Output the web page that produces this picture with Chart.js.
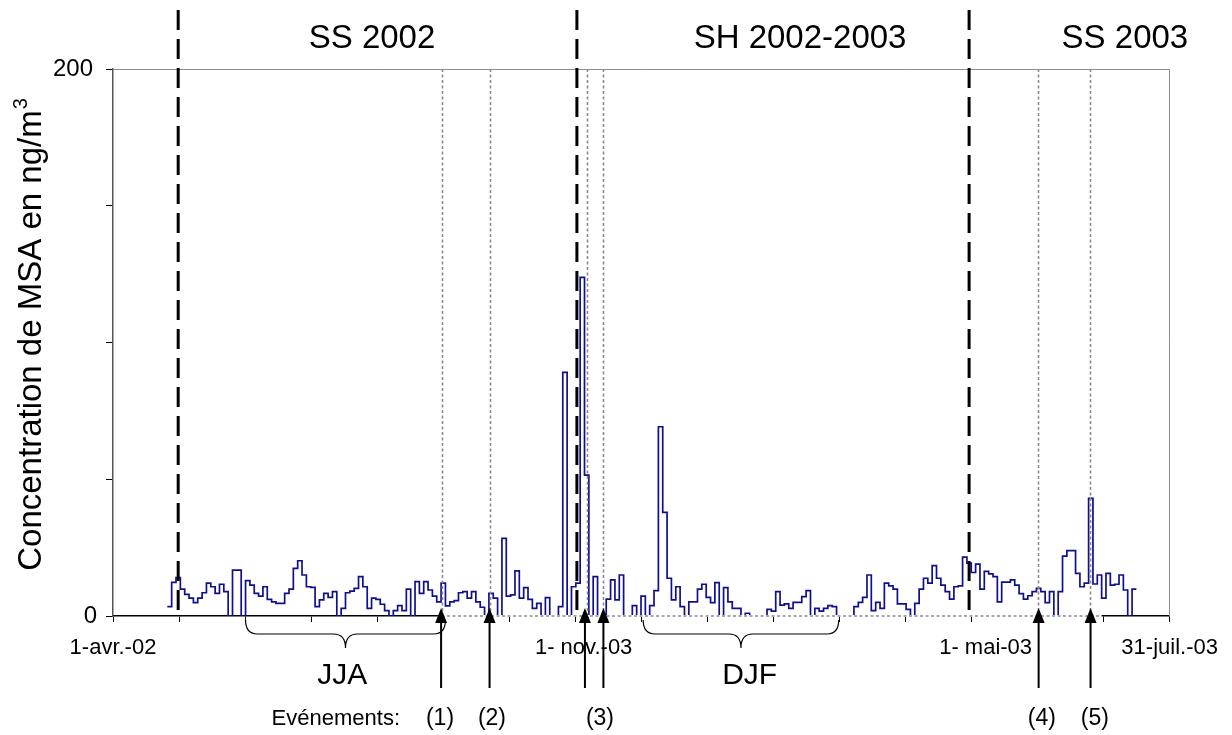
<!DOCTYPE html>
<html><head><meta charset="utf-8">
<script src="https://cdn.jsdelivr.net/npm/chart.js@4/dist/chart.umd.min.js"></script>
<style>html,body{margin:0;padding:0;background:#fff;}#wrap{width:1232px;height:735px;position:relative;}</style>
</head><body><div id="wrap"><canvas id="c"></canvas></div>
<script>
// MSA concentration (ng/m3), one value per 2-day sample, first sample on 26 avr. 2002
const msaValues = [
 3.4,12.3,14.0,9.8,7.9,6.5,4.9,6.5,8.5,12.0, 10.7,8.3,11.6,8.9,0,16.8,16.8,0,12.9,11.3,
 8.3,7.3,10.7,6.1,5.2,4.6,4.6,8.3,9.8,17.4, 20.2,15.0,10.7,10.5,3.4,5.9,8.3,6.8,8.9,0,
 2.8,8.5,9.1,10.1,14.4,10.7,2.8,6.5,6.1,4.3, 2.0,0,2.0,3.8,2.0,9.8,0,12.6,8.3,12.6,
 9.5,7.3,5.2,12.0,3.7,5.2,5.6,8.5,8.9,6.5, 8.9,5.2,3.2,0,8.3,6.5,0,28.4,7.3,7.7,
 16.5,6.5,10.4,6.1,2.8,4.6,0,6.7,0,0, 3.4,89.1,0,10.7,12.0,123.8,51.5,0,14.4,0,
 0,6.2,13.2,5.9,15.0,0,0,3.8,0,7.3, 0,3.8,9.3,69.2,37.9,13.8,5.9,10.7,3.4,0,
 5.2,5.2,9.8,11.6,6.8,4.9,12.2,0,10.4,5.2, 2.8,2.8,0,1.0,0,0,0,0,2.4,1.8,
 8.9,4.0,4.4,2.8,5.0,5.0,7.1,9.3,0,2.8, 1.8,2.8,3.8,3.4,0,0,0,0,3.4,5.0,
 6.8,15.0,2.0,5.0,2.8,12.0,11.0,9.8,4.4,4.4, 2.4,0,4.6,9.8,13.8,12.0,18.4,13.8,11.3,8.9,
 6.2,10.7,11.0,21.5,19.3,15.9,19.0,9.8,16.3,15.4, 14.4,5.2,12.4,12.4,13.2,11.3,8.2,6.2,7.4,8.9,
 10.1,8.9,4.9,8.9,0,8.9,21.9,23.9,23.9,15.6, 10.7,12.0,43.0,11.7,15.0,6.5,15.6,11.3,11.6,15.0,
 9.5,0,9.8
];
const firstSampleDay = 25;      // days after 1-avr.-02
const sampleStepDays = 2;
const axisDays = 486;           // 1-avr.-02 .. 31-juil.-03
const axisTickCount = 17;

const xLabelTexts = ['1-avr.-02','1- nov.-03','1- mai-03','31-juil.-03'];
const xLabelDays = [0, 216.6, 401.6, 486.3];

const yTickLabels = ['0','200'];
const yTickValues = [0, 200];

const seasonNames = ['SS 2002','SH 2002-2003','SS 2003'];
const seasonLabelDays = [119.2, 316.2, 465.7];
const seasonBoundaryDays = [30, 213.5, 394];

const eventLineDays = [151.2, 173.3, 218.0, 225.5, 425.5, 449.5];
const eventArrowDays = [151.0, 173.3, 217.2, 225.7, 426.0, 449.9];
const eventLabels = ['(1)','(2)','(3)','(4)','(5)'];
const eventLabelDays = [150.5, 174.4, 224.1, 427.5, 451.9];
const eventBaselineDays = [151.2, 455];

const periodNames = ['JJA','DJF'];
const periodStartDays = [61, 244];
const periodEndDays = [153, 334];
const periodLabelDays = [105.5, 293];

const yTitle = 'Concentration de MSA en ng/m';
const yTitleSup = '3';
const eventsCaption = 'Evénements:';

const FONT = '"Liberation Sans", Arial, sans-serif';

const points = msaValues.map((v,i)=>({x: firstSampleDay + i*sampleStepDays, y: v}));
points.push({x: firstSampleDay + msaValues.length*sampleStepDays, y: msaValues[msaValues.length-1]});

function brace(ctx, x1, x2, yTop, h){
  const xm=(x1+x2)/2, yMid=yTop+h*0.5, yTip=yTop+h, r=12;
  ctx.beginPath();
  ctx.moveTo(x1, yTop);
  ctx.quadraticCurveTo(x1, yMid, x1+r, yMid);
  ctx.lineTo(xm-r, yMid);
  ctx.quadraticCurveTo(xm, yMid, xm, yTip);
  ctx.quadraticCurveTo(xm, yMid, xm+r, yMid);
  ctx.lineTo(x2-r, yMid);
  ctx.quadraticCurveTo(x2, yMid, x2, yTop);
  ctx.stroke();
}

const annot = {
  id:'annot',
  afterDatasetsDraw(chart){
    const ctx=chart.ctx, xs=chart.scales.x, ys=chart.scales.y, a=chart.chartArea;
    const X=d=>xs.getPixelForValue(d);
    ctx.save();
    ctx.strokeStyle='#8c8c8c'; ctx.lineWidth=1;
    ctx.beginPath(); ctx.moveTo(a.left, a.top+0.5); ctx.lineTo(a.right+0.5, a.top+0.5); ctx.lineTo(a.right+0.5, a.bottom); ctx.stroke();
    ctx.strokeStyle='#8a8a8a'; ctx.lineWidth=1.6; ctx.setLineDash([3,2.5]);
    eventLineDays.forEach(d=>{ const x=Math.round(X(d))+0.5; ctx.beginPath(); ctx.moveTo(x,a.top); ctx.lineTo(x,a.bottom); ctx.stroke(); });
    const b=ys.getPixelForValue(0);
    ctx.setLineDash([]); ctx.strokeStyle='#fff'; ctx.lineWidth=2;
    ctx.beginPath(); ctx.moveTo(X(eventBaselineDays[0]),b); ctx.lineTo(X(eventBaselineDays[1]),b); ctx.stroke();
    ctx.strokeStyle='#8a8a8a'; ctx.lineWidth=1.6; ctx.setLineDash([3,2.5]);
    ctx.beginPath(); ctx.moveTo(X(eventBaselineDays[0]),b); ctx.lineTo(X(eventBaselineDays[1]),b); ctx.stroke();
    ctx.strokeStyle='#000'; ctx.lineWidth=3; ctx.setLineDash([20,9]);
    seasonBoundaryDays.forEach(d=>{ const x=X(d); ctx.beginPath(); ctx.moveTo(x,10); ctx.lineTo(x,a.bottom); ctx.stroke(); });
    ctx.setLineDash([]);
    ctx.fillStyle='#000'; ctx.strokeStyle='#000'; ctx.lineWidth=2;
    eventArrowDays.forEach(d=>{ const x=X(d);
      ctx.beginPath(); ctx.moveTo(x,688); ctx.lineTo(x,620); ctx.stroke();
      ctx.beginPath(); ctx.moveTo(x,608); ctx.lineTo(x-6,623); ctx.lineTo(x+6,623); ctx.closePath(); ctx.fill(); });
    ctx.lineWidth=1.2;
    periodNames.forEach((n,i)=>brace(ctx, X(periodStartDays[i]), X(periodEndDays[i]), 620, 28));
    ctx.fillStyle='#000'; ctx.textBaseline='middle';
    ctx.textAlign='center';
    ctx.font='33px '+FONT;
    seasonNames.forEach((n,i)=>ctx.fillText(n, X(seasonLabelDays[i]), 39));
    ctx.font='22px '+FONT;
    xLabelTexts.forEach((t,i)=>ctx.fillText(t, X(xLabelDays[i]), 648));
    ctx.font='30px '+FONT;
    periodNames.forEach((n,i)=>ctx.fillText(n, X(periodLabelDays[i]), 676));
    ctx.font='23px '+FONT;
    eventLabels.forEach((t,i)=>ctx.fillText(t, X(eventLabelDays[i]), 719));
    ctx.textAlign='right'; ctx.font='22px '+FONT;
    ctx.fillText(eventsCaption, 400, 719);
    ctx.font='24px '+FONT;
    yTickLabels.forEach((t,i)=>ctx.fillText(t, i===0?97:93, ys.getPixelForValue(yTickValues[i])));
    ctx.translate(32, 335); ctx.rotate(-Math.PI/2);
    ctx.font='33px '+FONT;
    const w1=ctx.measureText(yTitle).width;
    ctx.font='20px '+FONT;
    const w2=ctx.measureText(yTitleSup).width;
    const start=-(w1+w2)/2;
    ctx.textAlign='left';
    ctx.font='33px '+FONT; ctx.fillText(yTitle, start, 0);
    ctx.font='20px '+FONT; ctx.fillText(yTitleSup, start+w1+1, -11);
    ctx.restore();
  }
};

new Chart(document.getElementById('c'), {
  type:'line',
  data:{ datasets:[{ data:points, stepped:true, borderColor:'#10108c', borderWidth:1.7, pointRadius:0, fill:false, tension:0 }]},
  options:{
    responsive:true, maintainAspectRatio:false, animation:false,
    layout:{ padding:{ left:106, right:63, top:69, bottom:113 } },
    plugins:{ legend:{display:false}, tooltip:{enabled:false} },
    scales:{
      x:{ type:'linear', min:0, max:axisDays,
          afterBuildTicks:s=>{ s.ticks = Array.from({length:axisTickCount},(_,i)=>({value:i*axisDays/(axisTickCount-1)})); },
          afterFit:s=>{ s.height=6; },
          ticks:{ display:false },
          grid:{ drawOnChartArea:false, drawTicks:true, tickLength:6, color:'#000', lineWidth:1 },
          border:{ color:'#000', width:1.5 } },
      y:{ min:0, max:200,
          afterBuildTicks:s=>{ s.ticks=[0,50,100,150,200].map(v=>({value:v})); },
          afterFit:s=>{ s.width=7; },
          ticks:{ display:false },
          grid:{ drawOnChartArea:false, drawTicks:true, tickLength:7, color:'#000', lineWidth:1 },
          border:{ color:'#555', width:1.5 } }
    }
  },
  plugins:[annot]
});
</script></body></html>
